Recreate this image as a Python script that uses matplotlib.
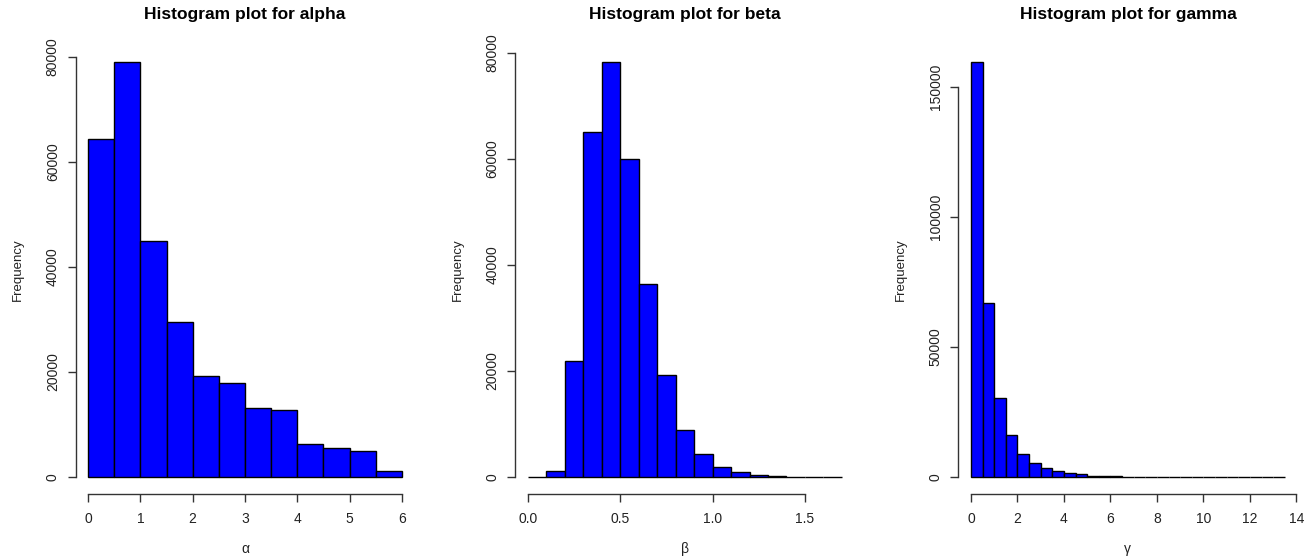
import matplotlib
matplotlib.use("Agg")
import matplotlib.pyplot as plt

plt.rcParams['font.family'] = ['Liberation Sans', 'DejaVu Sans']

# bin edges and counts
alpha_edges = [0, 0.5, 1, 1.5, 2, 2.5, 3, 3.5, 4, 4.5, 5, 5.5, 6]
alpha_counts = [64300, 79000, 45000, 29500, 19300, 17900, 13200, 12800, 6200, 5500, 4900, 1100]

beta_edges = [0.0, 0.1, 0.2, 0.3, 0.4, 0.5, 0.6, 0.7, 0.8, 0.9, 1.0, 1.1, 1.2, 1.3, 1.4, 1.5, 1.6, 1.7]
beta_counts = [0, 1100, 21900, 65000, 78200, 60000, 36300, 19300, 8800, 4300, 1800, 900, 450, 200, 50, 20, 10]

gamma_edges = [0, 0.5, 1, 1.5, 2, 2.5, 3, 3.5, 4, 4.5, 5, 5.5, 6, 6.5, 7, 7.5, 8, 8.5, 9, 9.5,
               10, 10.5, 11, 11.5, 12, 12.5, 13, 13.5]
gamma_counts = [159500, 67100, 30300, 16000, 8900, 5500, 3300, 2200, 1400, 1000, 500, 400, 300,
                0, 0, 0, 0, 0, 0, 0, 0, 0, 0, 0, 0, 0, 0]

titles = ["Histogram plot for alpha", "Histogram plot for beta", "Histogram plot for gamma"]
xlabels = ["\u03b1", "\u03b2", "\u03b3"]
xticks = [[0, 1, 2, 3, 4, 5, 6], [0.0, 0.5, 1.0, 1.5], [0, 2, 4, 6, 8, 10, 12, 14]]
xticklabels = [["0", "1", "2", "3", "4", "5", "6"], ["0.0", "0.5", "1.0", "1.5"],
               ["0", "2", "4", "6", "8", "10", "12", "14"]]
yticks = [[0, 20000, 40000, 60000, 80000], [0, 20000, 40000, 60000, 80000],
          [0, 50000, 100000, 150000]]

W, H = 1316, 557
fig = plt.figure(figsize=(W / 100, H / 100), dpi=100)

lefts = [75.5, 515.4, 958.4]   # pixel position of each plot region
pw = 339.0
top_px, bot_px = 45.7, 493.6

data = [(alpha_edges, alpha_counts), (beta_edges, beta_counts), (gamma_edges, gamma_counts)]

for i, (edges, counts) in enumerate(data):
    ax = fig.add_axes([lefts[i] / W, 1 - bot_px / H, pw / W, (bot_px - top_px) / H])
    widths = [edges[k + 1] - edges[k] for k in range(len(counts))]
    ax.bar(edges[:-1], counts, width=widths, align='edge', color='#0000ff',
           edgecolor='black', linewidth=1.0)

    # R style 4% padding
    xr = edges[-1] - edges[0]
    ax.set_xlim(edges[0] - 0.04 * xr, edges[-1] + 0.04 * xr)
    ymax = max(counts)
    ax.set_ylim(-0.04 * ymax, 1.04 * ymax)

    ax.set_xticks(xticks[i])
    ax.set_xticklabels(xticklabels[i])
    ax.set_yticks(yticks[i])
    ax.set_yticklabels([str(v) for v in yticks[i]], rotation=90, va='center')

    for s in ['top', 'right']:
        ax.spines[s].set_visible(False)
    ax.spines['left'].set_bounds(yticks[i][0], yticks[i][-1])
    ax.spines['bottom'].set_bounds(xticks[i][0], xticks[i][-1])
    for s in ['left', 'bottom']:
        ax.spines[s].set_linewidth(1.0)
        ax.spines[s].set_color('#333333')
    ax.tick_params(length=5.8, width=1.0, pad=7.5, labelsize=10, colors='#333333',
                   labelcolor='#222222')
    ax.tick_params(axis='y', pad=5.5)

    cx = (lefts[i] + pw / 2) / W
    fig.text(cx, 1 - 15 / H, titles[i], ha='center', va='center',
             fontsize=12.5, fontweight='bold')
    fig.text(cx, 1 - 549 / H, xlabels[i], ha='center', va='center', fontsize=10,
             color='#222222')
    fig.text((lefts[i] - 58) / W, 1 - 270 / H, "Frequency", ha='center', va='center',
             rotation=90, fontsize=9.5, color='#222222')

fig.savefig("out.png", dpi=100)
